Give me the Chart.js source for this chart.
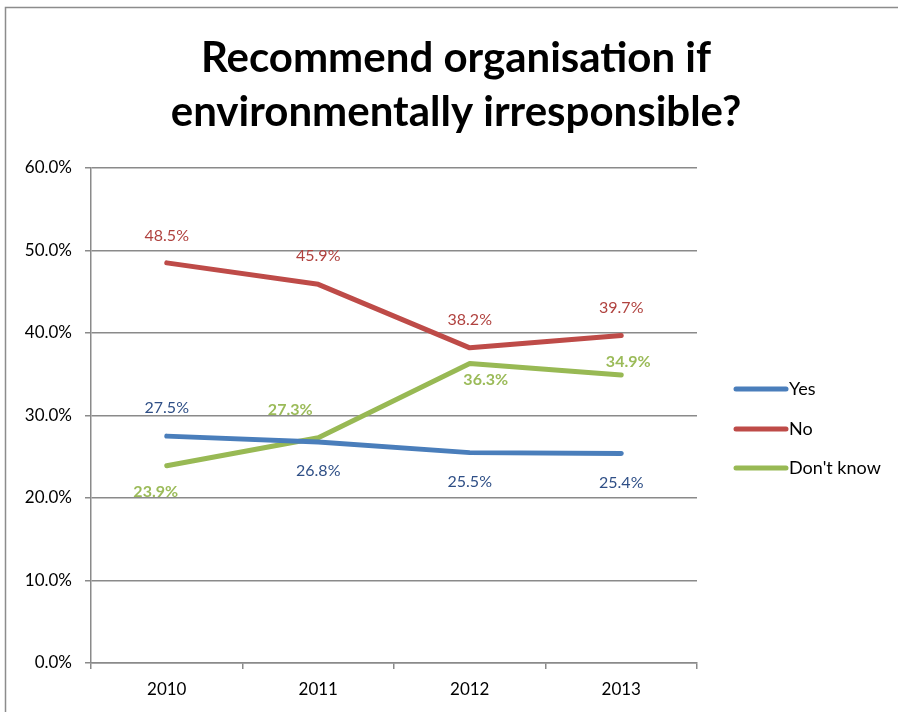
<!DOCTYPE html>
<html>
<head>
<meta charset="utf-8">
<script src="https://cdn.jsdelivr.net/npm/chart.js@4"></script>
<style>
  html, body { margin: 0; padding: 0; background: #fff; }
  #wrap { width: 898px; height: 712px; position: relative; }
</style>
</head>
<body>
<div id="wrap"><canvas id="chart" width="898" height="712"></canvas></div>
<script>
// Values
const years = ["2010", "2011", "2012", "2013"]
const yesValues = [27.5, 26.8, 25.5, 25.4]
const noValues = [48.5, 45.9, 38.2, 39.7]
const dontKnowValues = [23.9, 27.3, 36.3, 34.9]
const yTicks = [0, 10, 20, 30, 40, 50, 60]
const titleLines = ["Recommend organisation if", "environmentally irresponsible?"]

const font = "Lato, 'Open Sans', sans-serif"
const gridColor = "#8a8a8a"

// label offsets (px, relative to each point) so labels sit like the original
const labelStyle = {
  Yes: { color: "#2f4f86", bold: false, offsets: [[0, -28], [0, 29], [0, 29], [0, 29]] },
  No: { color: "#b0423f", bold: false, offsets: [[0, -27], [0, -28], [0, -28], [0, -28]] },
  "Don't know": { color: "#9bbb59", bold: true, offsets: [[-11, 26], [-28, -28], [16, 16], [7, -13]] }
}

const dataLabels = {
  id: "dataLabels",
  afterDatasetsDraw(chart) {
    const ctx = chart.ctx
    ctx.save()
    ctx.textAlign = "center"
    ctx.textBaseline = "middle"
    chart.data.datasets.forEach((ds, i) => {
      const st = labelStyle[ds.label]
      ctx.fillStyle = st.color
      ctx.font = `${st.bold ? "bold " : ""}16px ${font}`
      chart.getDatasetMeta(i).data.forEach((pt, j) => {
        const [dx, dy] = st.offsets[j]
        ctx.fillText(ds.data[j].toFixed(1) + "%", pt.x + dx, pt.y + dy)
      })
    })
    ctx.restore()
  }
}

const sideLegend = {
  id: "sideLegend",
  afterDraw(chart) {
    const ctx = chart.ctx
    const rows = [389, 429, 468]
    ctx.save()
    chart.data.datasets.forEach((ds, i) => {
      const y = rows[i]
      ctx.strokeStyle = ds.borderColor
      ctx.lineWidth = 5
      ctx.lineCap = "round"
      ctx.beginPath()
      ctx.moveTo(736, y)
      ctx.lineTo(786, y)
      ctx.stroke()
      ctx.fillStyle = "#000"
      ctx.font = `18px ${font}`
      ctx.textAlign = "left"
      ctx.textBaseline = "middle"
      ctx.fillText(ds.label, 789, y)
    })
    ctx.restore()
  }
}

// white background, grey frame and the two-line title centred on the whole box
const frame = {
  id: "frame",
  beforeDraw(chart) {
    const ctx = chart.ctx
    ctx.save()
    ctx.fillStyle = "#fff"
    ctx.fillRect(0, 0, chart.width, chart.height)
    ctx.strokeStyle = "#8c8c8c"
    ctx.lineWidth = 1.5
    ctx.beginPath()
    ctx.moveTo(5.5, chart.height)
    ctx.lineTo(5.5, 7.5)
    ctx.lineTo(chart.width, 7.5)
    ctx.stroke()
    ctx.fillStyle = "#000"
    ctx.font = `bold 42px ${font}`
    ctx.textAlign = "center"
    ctx.textBaseline = "middle"
    titleLines.forEach((t, i) => ctx.fillText(t, 456, 58 + i * 54))
    ctx.restore()
  }
}

new Chart(document.getElementById("chart"), {
  type: "line",
  data: {
    labels: years,
    datasets: [
      { label: "Yes", data: yesValues, borderColor: "#4a7ebb" },
      { label: "No", data: noValues, borderColor: "#be4b48" },
      { label: "Don't know", data: dontKnowValues, borderColor: "#98b954" }
    ]
  },
  options: {
    responsive: false,
    animation: false,
    devicePixelRatio: 1,
    layout: { padding: { left: 0, right: 201, top: 168, bottom: 0 } },
    elements: {
      line: { borderWidth: 5, tension: 0, borderCapStyle: "round", borderJoinStyle: "round" },
      point: { radius: 0, hoverRadius: 0 }
    },
    plugins: {
      legend: { display: false },
      tooltip: { enabled: false },
      title: { display: false }
    },
    scales: {
      x: {
        offset: true,
        grid: { offset: true, drawOnChartArea: false, color: gridColor, lineWidth: 1.5, tickLength: 6 },
        border: { color: gridColor, width: 1.5 },
        ticks: { color: "#000", padding: 10, font: { family: font, size: 17 } },
        afterFit(scale) { scale.height = 49 }
      },
      y: {
        min: 0,
        max: 60,
        afterBuildTicks(scale) { scale.ticks = yTicks.map(v => ({ value: v })) },
        grid: { color: gridColor, lineWidth: 1.5, tickLength: 6 },
        border: { color: gridColor, width: 1.5 },
        ticks: {
          color: "#000",
          padding: 13,
          font: { family: font, size: 17 },
          callback: (v) => v.toFixed(1) + "%"
        },
        afterFit(scale) { scale.width = 91 }
      }
    }
  },
  plugins: [frame, dataLabels, sideLegend]
})
</script>
</body>
</html>
